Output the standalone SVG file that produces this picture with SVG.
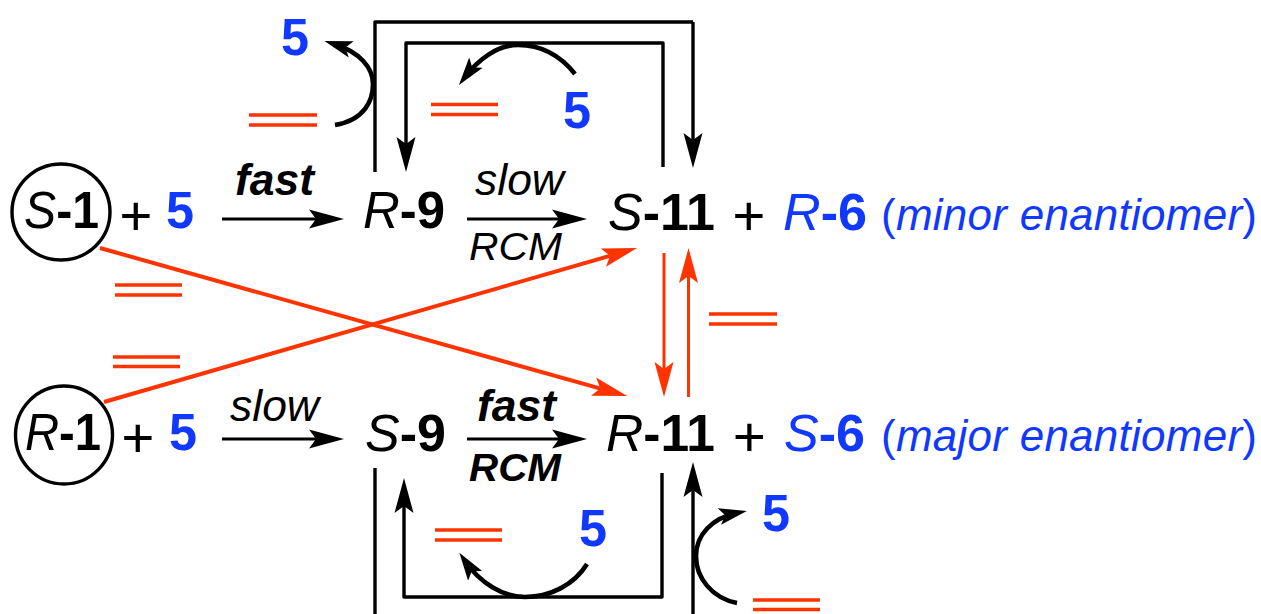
<svg xmlns="http://www.w3.org/2000/svg" width="1261" height="614" viewBox="0 0 1261 614">
<style>
text{font-family:"Liberation Sans",Arial,sans-serif;font-size:52px;fill:#000}
.i{font-style:italic}.b{font-weight:700}
.blue{fill:#1038ff}
.sm{font-size:44px}
.rcm{font-size:39px}
.plus{font-size:56px;stroke:#000;stroke-width:.2}
.note{font-size:44px;fill:#1038ff}
.k{fill:none;stroke:#000;stroke-width:3.4;stroke-linejoin:round}
.h{fill:none;stroke:#000;stroke-width:3;marker-end:url(#ab)}
.a{fill:none;stroke:#000;stroke-width:3.4;stroke-linejoin:round;marker-end:url(#ab)}
.c{fill:none;stroke:#000;stroke-width:4.6;marker-end:url(#ac)}
.r{fill:none;stroke:#ff3300;stroke-width:4;marker-end:url(#ar)}
.rv{fill:none;stroke:#ff3300;stroke-width:3;marker-end:url(#ar)}
.d{fill:none;stroke:#ff3300;stroke-width:3.6}
.ring{fill:none;stroke:#000;stroke-width:3.4}
</style>
<defs>
<marker id="ab" markerUnits="userSpaceOnUse" markerWidth="40" markerHeight="24" refX="25" refY="12" orient="auto"><path d="M0,2.5L35,12L0,21.5L7,12z" fill="#000"/></marker>
<marker id="ar" markerUnits="userSpaceOnUse" markerWidth="40" markerHeight="24" refX="25" refY="12" orient="auto"><path d="M0,2.5L35,12L0,21.5L7,12z" fill="#ff3300"/></marker>
<marker id="ac" markerUnits="userSpaceOnUse" markerWidth="32" markerHeight="24" refX="18" refY="12" orient="auto"><path d="M0,3.5L28,12L0,20.5L6,12z" fill="#000"/></marker>
</defs>
<g id="connectors">
<path class="k" d="M375,172V22H693"/>
<path class="a" d="M693,22V158"/>
<path class="a" d="M663,167V43H406V162"/>
<path class="k" d="M375,468V614"/>
<path class="a" d="M693,614V472"/>
<path class="a" d="M662,473V597H404V488"/>
<path class="c" d="M335,125C365,120 373,100 373,84C373,68 360,52 334,44"/>
<path class="c" d="M575,74C560,55 540,45 518,45C497,45 478,60 465,77"/>
<path class="c" d="M587,564C574,585 550,597 525,597C503,597 480,583 465,561"/>
<path class="c" d="M737,603C712,598 696,578 696,556C696,535 712,518 737,513"/>
<path class="h" d="M222,219H334"/>
<path class="h" d="M467,219H577"/>
<path class="h" d="M222,439H334"/>
<path class="h" d="M467,439H577"/>
<path class="r" d="M100,248L617.6,393.4"/>
<path class="r" d="M104,402L627.4,250.8"/>
<path class="rv" d="M664,253V387"/>
<path class="rv" d="M688.500,397V258"/>
</g>
<g id="bonds">
<path class="d" d="M249,115H317M249,125H317"/>
<path class="d" d="M431,104.500H498M431,114.500H498"/>
<path class="d" d="M115,285H182M115,295H182"/>
<path class="d" d="M113,357H180M113,366.500H180"/>
<path class="d" d="M709,314H777M709,324H777"/>
<path class="d" d="M435,530H502M435,540H502"/>
<path class="d" d="M753,600H820M753,609.500H820"/>
</g>
<g id="s1"><ellipse class="ring" cx="61" cy="212" rx="49" ry="48"/><text x="24" y="228" textLength="75" lengthAdjust="spacingAndGlyphs"><tspan class="i">S</tspan><tspan class="b">-1</tspan></text></g>
<g id="r1"><ellipse class="ring" cx="64" cy="435" rx="48.500" ry="49"/><text x="25" y="450" textLength="76" lengthAdjust="spacingAndGlyphs"><tspan class="i">R</tspan><tspan class="b">-1</tspan></text></g>
<g id="plus-top"><text class="plus" x="119.500" y="234.500">+</text><text class="b blue" x="166" y="228" textLength="28" lengthAdjust="spacingAndGlyphs">5</text></g>
<g id="plus-bottom"><text class="plus" x="121.500" y="456.500">+</text><text class="b blue" x="169" y="450" textLength="28" lengthAdjust="spacingAndGlyphs">5</text></g>
<g id="r9"><text x="363" y="228" textLength="82" lengthAdjust="spacingAndGlyphs"><tspan class="i">R</tspan><tspan class="b">-9</tspan></text></g>
<g id="s9"><text x="365" y="451" textLength="81" lengthAdjust="spacingAndGlyphs"><tspan class="i">S</tspan><tspan class="b">-9</tspan></text></g>
<g id="s11"><text x="608" y="230" textLength="107" lengthAdjust="spacingAndGlyphs"><tspan class="i">S</tspan><tspan class="b">-11</tspan></text></g>
<g id="r11"><text x="606" y="451" textLength="109" lengthAdjust="spacingAndGlyphs"><tspan class="i">R</tspan><tspan class="b">-11</tspan></text></g>
<g id="plus-right"><text class="plus" x="732.600" y="234.500">+</text><text class="plus" x="733" y="456">+</text></g>
<g id="r6"><text class="blue" x="783" y="230" textLength="84" lengthAdjust="spacingAndGlyphs"><tspan class="i">R</tspan><tspan class="b">-6</tspan></text></g>
<g id="s6"><text class="blue" x="784" y="451" textLength="81" lengthAdjust="spacingAndGlyphs"><tspan class="i">S</tspan><tspan class="b">-6</tspan></text></g>
<g id="minor"><text class="note" x="881" y="230" textLength="376"><tspan>(</tspan><tspan class="i">minor enantiomer</tspan><tspan>)</tspan></text></g>
<g id="major"><text class="note" x="881" y="451" textLength="376"><tspan>(</tspan><tspan class="i">major enantiomer</tspan><tspan>)</tspan></text></g>
<g id="labels">
<text class="sm i b" x="235" y="195" textLength="79" lengthAdjust="spacingAndGlyphs">fast</text>
<text class="sm i" x="475" y="195" textLength="89" lengthAdjust="spacingAndGlyphs">slow</text>
<text class="rcm i" x="469" y="260" textLength="93" lengthAdjust="spacingAndGlyphs">RCM</text>
<text class="sm i" x="230" y="421" textLength="89" lengthAdjust="spacingAndGlyphs">slow</text>
<text class="sm i b" x="477" y="421" textLength="79" lengthAdjust="spacingAndGlyphs">fast</text>
<text class="rcm i b" x="469" y="481" textLength="92" lengthAdjust="spacingAndGlyphs">RCM</text>
</g>
<g id="fives">
<text class="b blue" x="281" y="55" textLength="28" lengthAdjust="spacingAndGlyphs">5</text>
<text class="b blue" x="563" y="128" textLength="28" lengthAdjust="spacingAndGlyphs">5</text>
<text class="b blue" x="579" y="546" textLength="28" lengthAdjust="spacingAndGlyphs">5</text>
<text class="b blue" x="762" y="531" textLength="28" lengthAdjust="spacingAndGlyphs">5</text>
</g>
</svg>
